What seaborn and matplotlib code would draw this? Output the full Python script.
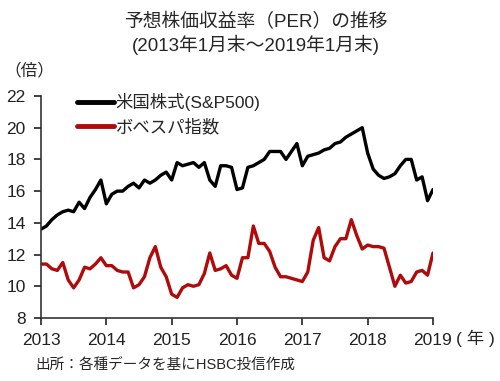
import numpy as np
import pandas as pd
import matplotlib
matplotlib.use("Agg")
import matplotlib.pyplot as plt
import seaborn as sns

# ── Data: monthly forward PER, Jan 2013 - Jan 2019 ────────────────────────────

sp500 = [13.6, 13.8, 14.2, 14.5, 14.7, 14.8, 14.7, 15.3, 14.9, 15.6, 16.1, 16.7,
         15.2, 15.8, 16.0, 16.0, 16.3, 16.5, 16.2, 16.7, 16.5, 16.7, 17.0, 17.2,
         16.7, 17.8, 17.6, 17.7, 17.8, 17.5, 17.8, 16.7, 16.3, 17.6, 17.6, 17.5,
         16.1, 16.2, 17.5, 17.6, 17.8, 18.0, 18.5, 18.5, 18.5, 18.0, 18.5, 19.0,
         17.6, 18.2, 18.3, 18.4, 18.6, 18.7, 19.0, 19.1, 19.4, 19.6, 19.8, 20.0,
         18.4, 17.4, 17.0, 16.8, 16.9, 17.1, 17.6, 18.0, 18.0, 16.7, 16.9, 15.4,
         16.1]

bovespa = [11.4, 11.4, 11.1, 11.0, 11.5, 10.4, 9.9, 10.4, 11.2, 11.1, 11.4, 11.8,
           11.3, 11.3, 11.0, 10.9, 10.9, 9.9, 10.1, 10.6, 11.8, 12.5, 11.2, 10.6,
           9.5, 9.3, 9.9, 10.1, 10.0, 10.1, 10.8, 12.1, 11.0, 11.1, 11.3, 10.7,
           10.5, 11.8, 11.8, 13.8, 12.7, 12.7, 12.2, 11.2, 10.6, 10.6, 10.5, 10.4,
           10.3, 10.9, 12.9, 13.7, 11.8, 11.6, 12.5, 13.0, 13.0, 14.2, 13.2, 12.35,
           12.6, 12.5, 12.5, 12.4, 11.2, 10.0, 10.7, 10.2, 10.3, 10.9, 11.0, 10.7,
           12.1]

years = [2013, 2014, 2015, 2016, 2017, 2018, 2019]
y_ticks = [8, 10, 12, 14, 16, 18, 20, 22]
series_names = ["米国株式(S&P500)", "ボベスパ指数"]
colors = ["#000000", "#b00a0a"]

t = 2013 + np.arange(len(sp500)) / 12.0
df = pd.DataFrame({
    "t": np.concatenate([t, t]),
    "per": sp500 + bovespa,
    "series": [series_names[0]] * len(sp500) + [series_names[1]] * len(bovespa),
})

# ── Figure ─────────────────────────────────────────────────────────────────────

sns.set_style("ticks")
plt.rcParams["font.family"] = ["Liberation Sans", "Noto Sans CJK JP", "DejaVu Sans"]

fig = plt.figure(figsize=(5.0, 3.81), dpi=100)
ax = fig.add_axes([0.082, 0.1654, 0.784, 0.5827])

sns.lineplot(data=df, x="t", y="per", hue="series", palette=colors,
             linewidth=2.4, ax=ax, legend=False)

ax.set_xlim(2013, 2019)
ax.set_ylim(8, 22)
ax.set_xticks(years)
ax.set_xticklabels([str(y) for y in years])
ax.set_yticks(y_ticks)
ax.set_xlabel("")
ax.set_ylabel("")
ax.tick_params(labelsize=12.5, colors="#222222", length=5, width=1.2)
ax.tick_params(axis="x", pad=6)
ax.tick_params(axis="y", pad=6)
for side in ["top", "right"]:
    ax.spines[side].set_visible(False)
for side in ["left", "bottom"]:
    ax.spines[side].set_linewidth(1.2)
    ax.spines[side].set_color("#333333")

handles = [plt.Line2D([], [], color=c, linewidth=3.5) for c in colors]
ax.legend(handles, series_names, loc="upper left", bbox_to_anchor=(0.075, 1.045),
          frameon=False, fontsize=12.5, handlelength=2.1, handletextpad=0.1,
          labelspacing=0.45, borderaxespad=0)

fig.text(0.512, 0.942, "予想株価収益率（PER）の推移", ha="center", va="center", fontsize=13.5)
fig.text(0.512, 0.882, "(2013年1月末～2019年1月末)", ha="center", va="center", fontsize=13.5)
fig.text(0.008, 0.816, "（倍）", ha="left", va="center", fontsize=12)
fig.text(0.912, 0.112, "( 年 )", ha="left", va="center", fontsize=12.5)
fig.text(0.07, 0.04, "出所：各種データを基にHSBC投信作成", ha="left", va="center", fontsize=10.5)

fig.savefig("out.png", dpi=100)
